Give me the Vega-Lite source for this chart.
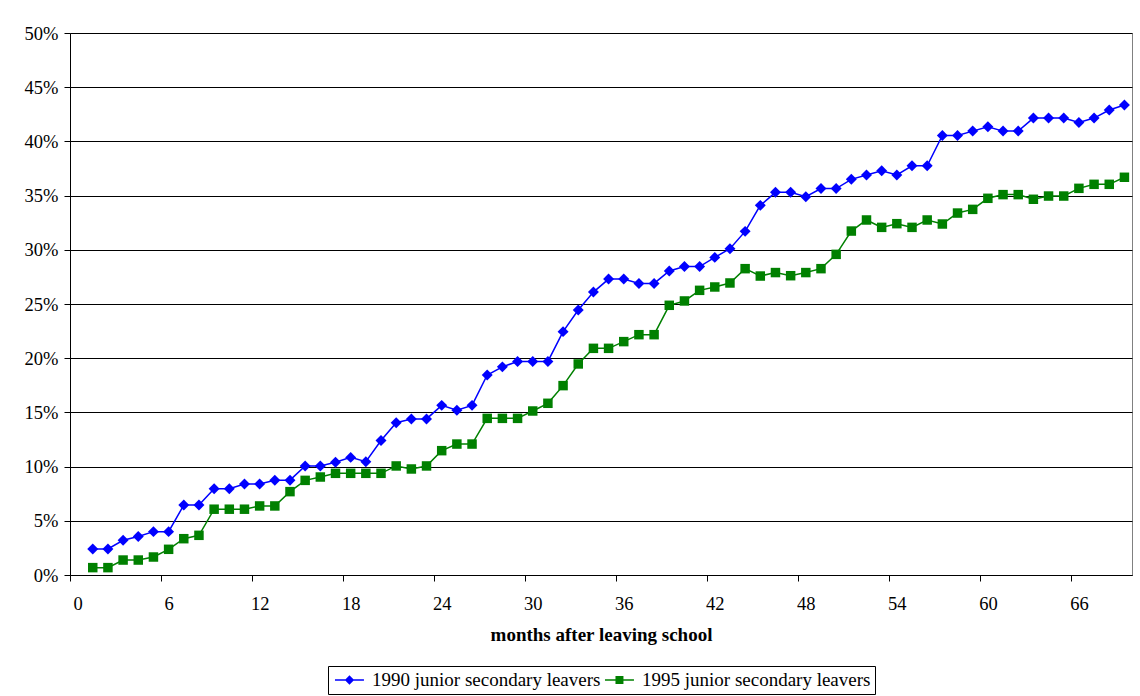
{
  "$schema": "https://vega.github.io/schema/vega-lite/v6.json",
  "width": 1062,
  "height": 542,
  "autosize": {"type": "none"},
  "padding": {"left": 70, "top": 33, "right": 8, "bottom": 121},
  "background": "white",
  "config": {
    "view": {"stroke": "#808080", "strokeWidth": 1},
    "font": "Liberation Serif",
    "axis": {"labelFont": "Liberation Serif", "titleFont": "Liberation Serif"},
    "legend": {
      "orient": "none",
      "legendX": 258,
      "legendY": 633,
      "direction": "horizontal",
      "labelFont": "Liberation Serif",
      "labelFontSize": 19,
      "labelColor": "black",
      "labelLimit": 400,
      "labelOffset": 20,
      "symbolSize": 324,
      "symbolStrokeWidth": 1.5,
      "symbolOpacity": 1,
      "columnPadding": 0,
      "strokeColor": "black",
      "fillColor": "white",
      "padding": 4
    }
  },
  "data": {
    "values": [
      {"m": 1, "a": 2.4, "b": 0.68},
      {"m": 2, "a": 2.4, "b": 0.68},
      {"m": 3, "a": 3.2, "b": 1.38},
      {"m": 4, "a": 3.55, "b": 1.38},
      {"m": 5, "a": 4.0, "b": 1.66},
      {"m": 6, "a": 4.0, "b": 2.37},
      {"m": 7, "a": 6.45, "b": 3.35},
      {"m": 8, "a": 6.45, "b": 3.66},
      {"m": 9, "a": 7.95, "b": 6.07},
      {"m": 10, "a": 7.95, "b": 6.07},
      {"m": 11, "a": 8.4, "b": 6.07},
      {"m": 12, "a": 8.4, "b": 6.37},
      {"m": 13, "a": 8.75, "b": 6.37},
      {"m": 14, "a": 8.75, "b": 7.69},
      {"m": 15, "a": 10.05, "b": 8.73},
      {"m": 16, "a": 10.05, "b": 9.04},
      {"m": 17, "a": 10.4, "b": 9.38},
      {"m": 18, "a": 10.85, "b": 9.38},
      {"m": 19, "a": 10.45, "b": 9.38},
      {"m": 20, "a": 12.4, "b": 9.38},
      {"m": 21, "a": 14.05, "b": 10.06},
      {"m": 22, "a": 14.4, "b": 9.78},
      {"m": 23, "a": 14.4, "b": 10.06},
      {"m": 24, "a": 15.65, "b": 11.47},
      {"m": 25, "a": 15.2, "b": 12.08},
      {"m": 26, "a": 15.65, "b": 12.08},
      {"m": 27, "a": 18.45, "b": 14.45},
      {"m": 28, "a": 19.2, "b": 14.45},
      {"m": 29, "a": 19.7, "b": 14.45},
      {"m": 30, "a": 19.7, "b": 15.13},
      {"m": 31, "a": 19.7, "b": 15.84},
      {"m": 32, "a": 22.45, "b": 17.47},
      {"m": 33, "a": 24.45, "b": 19.47},
      {"m": 34, "a": 26.1, "b": 20.91},
      {"m": 35, "a": 27.3, "b": 20.91},
      {"m": 36, "a": 27.3, "b": 21.53},
      {"m": 37, "a": 26.9, "b": 22.17},
      {"m": 38, "a": 26.9, "b": 22.17},
      {"m": 39, "a": 28.05, "b": 24.88},
      {"m": 40, "a": 28.45, "b": 25.28},
      {"m": 41, "a": 28.45, "b": 26.26},
      {"m": 42, "a": 29.3, "b": 26.57},
      {"m": 43, "a": 30.1, "b": 26.94},
      {"m": 44, "a": 31.7, "b": 28.26},
      {"m": 45, "a": 34.1, "b": 27.58},
      {"m": 46, "a": 35.3, "b": 27.9},
      {"m": 47, "a": 35.3, "b": 27.61},
      {"m": 48, "a": 34.9, "b": 27.9},
      {"m": 49, "a": 35.65, "b": 28.26},
      {"m": 50, "a": 35.65, "b": 29.58},
      {"m": 51, "a": 36.5, "b": 31.73},
      {"m": 52, "a": 36.9, "b": 32.75},
      {"m": 53, "a": 37.3, "b": 32.07},
      {"m": 54, "a": 36.9, "b": 32.41},
      {"m": 55, "a": 37.75, "b": 32.07},
      {"m": 56, "a": 37.75, "b": 32.75},
      {"m": 57, "a": 40.55, "b": 32.38},
      {"m": 58, "a": 40.55, "b": 33.39},
      {"m": 59, "a": 40.95, "b": 33.73},
      {"m": 60, "a": 41.35, "b": 34.75},
      {"m": 61, "a": 40.95, "b": 35.09},
      {"m": 62, "a": 40.95, "b": 35.09},
      {"m": 63, "a": 42.15, "b": 34.66},
      {"m": 64, "a": 42.15, "b": 34.96},
      {"m": 65, "a": 42.15, "b": 34.96},
      {"m": 66, "a": 41.75, "b": 35.67},
      {"m": 67, "a": 42.15, "b": 36.04},
      {"m": 68, "a": 42.9, "b": 36.04},
      {"m": 69, "a": 43.35, "b": 36.69}
    ]
  },
  "transform": [{"fold": ["a", "b"], "as": ["s", "v"]}],
  "encoding": {
    "x": {
      "field": "m",
      "type": "quantitative",
      "scale": {"domain": [-0.5, 69.5], "nice": false, "zero": false},
      "axis": {
        "title": "months after leaving school",
        "titleFont": "Liberation Serif",
        "titleFontSize": 19,
        "titleFontWeight": "bold",
        "titleColor": "black",
        "titlePadding": 13,
        "values": [-0.5, 5.5, 11.5, 17.5, 23.5, 29.5, 35.5, 41.5, 47.5, 53.5, 59.5, 65.5],
        "labelExpr": "datum.value + 0.5",
        "labelOffset": 7.6,
        "labelFont": "Liberation Serif",
        "labelFontSize": 18.5,
        "labelColor": "black",
        "labelPadding": 13,
        "labelOverlap": false,
        "labelBound": false,
        "labelFlush": false,
        "tickSize": 6,
        "tickColor": "black",
        "domainColor": "black",
        "grid": false
      }
    },
    "y": {
      "field": "v",
      "type": "quantitative",
      "scale": {"domain": [0, 50], "nice": false},
      "axis": {
        "title": null,
        "values": [0, 5, 10, 15, 20, 25, 30, 35, 40, 45, 50],
        "labelExpr": "datum.value + '%'",
        "labelFont": "Liberation Serif",
        "labelFontSize": 18.5,
        "labelColor": "black",
        "labelPadding": 6,
        "tickSize": 6,
        "tickColor": "black",
        "domainColor": "black",
        "grid": true,
        "gridColor": "black",
        "gridWidth": 1,
        "gridOpacity": 1
      }
    }
  },
  "layer": [
    {
      "mark": {"type": "point", "filled": true, "size": 324, "strokeWidth": 1.5, "opacity": 0},
      "encoding": {
        "fill": {
          "field": "s",
          "type": "nominal",
          "scale": {"domain": ["a", "b"], "range": ["#0000FF", "#008000"]},
          "legend": {"title": null, "labelExpr": "datum.value == 'a' ? '1990 junior secondary leavers' : '1995 junior secondary leavers'"}
        },
        "stroke": {
          "field": "s",
          "type": "nominal",
          "scale": {"domain": ["a", "b"], "range": ["#0000FF", "#008000"]},
          "legend": {"title": null, "labelExpr": "datum.value == 'a' ? '1990 junior secondary leavers' : '1995 junior secondary leavers'"}
        },
        "shape": {
          "field": "s",
          "type": "nominal",
          "scale": {
            "domain": ["a", "b"],
            "range": [
              "M-0.78,0L2.44,0M0.43,0L0.83,-0.4L1.23,0L0.83,0.4Z",
              "M-0.78,0L2.44,0M0.47,-0.36L1.19,-0.36L1.19,0.36L0.47,0.36Z"
            ]
          },
          "legend": {"title": null, "labelExpr": "datum.value == 'a' ? '1990 junior secondary leavers' : '1995 junior secondary leavers'"}
        }
      }
    },
    {
      "mark": {"type": "line", "strokeWidth": 1.5},
      "encoding": {
        "color": {
          "field": "s",
          "type": "nominal",
          "scale": {"domain": ["a", "b"], "range": ["#0000FF", "#008000"]},
          "legend": null
        }
      }
    },
    {
      "transform": [{"filter": "datum.s == 'a'"}],
      "mark": {"type": "point", "shape": "diamond", "filled": true, "size": 120, "color": "#0000FF", "opacity": 1}
    },
    {
      "transform": [{"filter": "datum.s == 'b'"}],
      "mark": {"type": "point", "shape": "square", "filled": true, "size": 90, "color": "#008000", "opacity": 1}
    }
  ]
}
